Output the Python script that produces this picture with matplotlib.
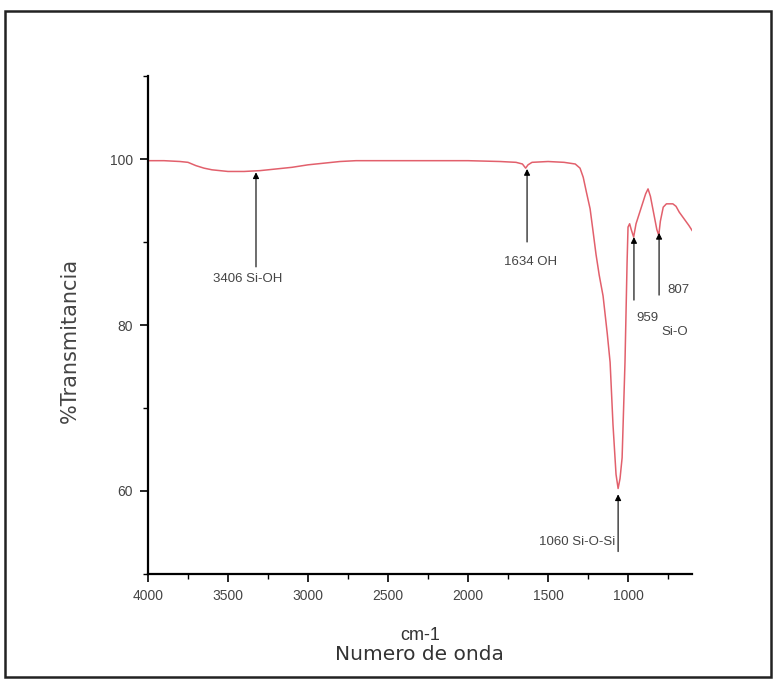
import matplotlib.pyplot as plt
from matplotlib.ticker import MultipleLocator
from matplotlib.patches import Rectangle

# FTIR spectrum (wavenumber cm-1, % transmittance)
wavenumber = [4000, 3900, 3800, 3750, 3700, 3650, 3600, 3500, 3400, 3300,
              3200, 3100, 3000, 2900, 2800, 2700, 2500, 2000, 1800, 1700,
              1660, 1640, 1625, 1600, 1500, 1400, 1330, 1300, 1280, 1260,
              1237, 1220, 1200, 1180, 1156, 1130, 1112, 1094, 1075, 1062,
              1050, 1037, 1019, 1006, 1000, 990, 980, 965, 950, 920,
              890, 875, 860, 840, 820, 808, 798, 780, 760, 720,
              700, 680, 650, 620, 600]
transmit = [99.8, 99.8, 99.7, 99.6, 99.2, 98.9, 98.7, 98.5, 98.5, 98.6,
            98.8, 99.0, 99.3, 99.5, 99.7, 99.8, 99.8, 99.8, 99.7, 99.6,
            99.4, 98.9, 99.3, 99.6, 99.7, 99.6, 99.4, 98.9, 97.8, 96.0,
            94.0, 91.5, 88.5, 86.0, 83.5, 79.0, 75.5, 68.0, 62.0, 60.3,
            61.5, 64.0, 75.5, 87.5, 91.8, 92.2, 91.5, 90.6, 92.2, 94.0,
            95.8, 96.4, 95.5, 93.5, 91.5, 90.8, 92.5, 94.2, 94.6, 94.6,
            94.3, 93.6, 92.8, 92.0, 91.4]

# band labels: text, arrow x, arrow tail y, arrow tip y
band_text = ["3406 Si-OH", "1634 OH", "1060 Si-O-Si", "959", "807"]
band_x = [3325, 1631, 1062, 963, 806]
band_tail = [87.0, 90.0, 52.7, 83.0, 83.6]
band_tip = [98.4, 98.8, 59.6, 90.6, 91.1]

plt.rcParams['font.family'] = ['Liberation Sans', 'DejaVu Sans']
grey = '#444444'

fig = plt.figure(figsize=(7.76, 6.8), dpi=100)
ax = fig.add_axes([0.1907, 0.1559, 0.7011, 0.7323])

ax.plot(wavenumber, transmit, color='#e2606c', lw=1.1)

ax.set_xlim(4000, 600)
ax.set_ylim(50, 110)
ax.xaxis.set_major_locator(MultipleLocator(500))
ax.xaxis.set_minor_locator(MultipleLocator(250))
ax.yaxis.set_major_locator(MultipleLocator(20))
ax.yaxis.set_minor_locator(MultipleLocator(10))
ax.set_xticks([4000, 3500, 3000, 2500, 2000, 1500, 1000])

for s in ['top', 'right']:
    ax.spines[s].set_visible(False)
for s in ['left', 'bottom']:
    ax.spines[s].set_linewidth(1.6)

ax.tick_params(which='major', length=6, width=1.2, labelsize=10,
               labelcolor=grey, pad=5)
ax.tick_params(which='minor', length=3.5, width=1.0)

ax.set_ylabel('%Transmitancia', fontsize=15, color=grey, labelpad=12,
              family=['DejaVu Sans'])
ax.yaxis.set_label_coords(-0.125, 0.47)
fig.text(0.541, 0.066, 'cm-1', fontsize=13, color='#333333',
         ha='center', va='center')
fig.text(0.541, 0.037, 'Numero de onda', fontsize=14.5, color='#333333',
         ha='center', va='center', family=['DejaVu Sans'])

for txt, x, y0, y1 in zip(band_text, band_x, band_tail, band_tip):
    ax.annotate('', xy=(x, y1), xytext=(x, y0),
                arrowprops=dict(arrowstyle='-|>', color='k', lw=0.8,
                                mutation_scale=9, shrinkA=0, shrinkB=0))

ax.text(3375, 85.5, band_text[0], fontsize=9.5, color=grey, ha='center', va='center')
ax.text(1606, 87.6, band_text[1], fontsize=9.5, color=grey, ha='center', va='center')
ax.text(1080, 53.9, band_text[2], fontsize=9.5, color=grey, ha='right', va='center')
ax.text(945, 80.8, band_text[3], fontsize=9.5, color=grey, ha='left', va='center')
ax.text(752, 84.2, band_text[4], fontsize=9.5, color=grey, ha='left', va='center')
ax.text(790, 79.2, 'Si-O', fontsize=9.5, color=grey, ha='left', va='center')

# outer frame around the whole figure
fig.patches.append(Rectangle((5 / 776, 3 / 680), 766 / 776, 666 / 680,
                             transform=fig.transFigure, fill=False,
                             edgecolor='#222222', lw=1.8))

fig.savefig('out.png', dpi=100)
